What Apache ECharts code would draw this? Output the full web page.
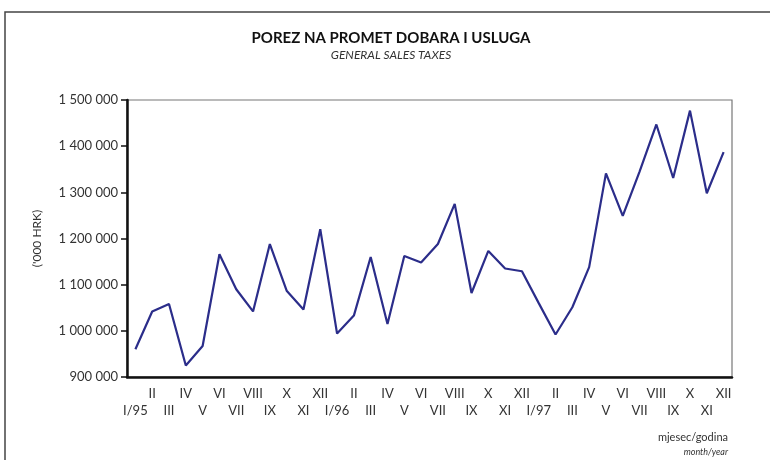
<!DOCTYPE html>
<html>
<head>
<meta charset="utf-8">
<script src="https://cdn.jsdelivr.net/npm/echarts@6/dist/echarts.min.js"></script>
<style>
  html, body { margin: 0; padding: 0; background: #fff; }
  #chart { width: 770px; height: 460px; }
</style>
</head>
<body>
<div id="chart"></div>
<script>
// mjeseci 1995-1997
const months = [
  'I/95', 'II', 'III', 'IV', 'V', 'VI', 'VII', 'VIII', 'IX', 'X', 'XI', 'XII',
  'I/96', 'II', 'III', 'IV', 'V', 'VI', 'VII', 'VIII', 'IX', 'X', 'XI', 'XII',
  'I/97', 'II', 'III', 'IV', 'V', 'VI', 'VII', 'VIII', 'IX', 'X', 'XI', 'XII'
]
// porez na promet ('000 HRK)
const salesTax = [
  960000, 1042000, 1058000, 925000, 967000, 1166000, 1090000, 1042000, 1188000, 1087000, 1046000, 1220000,
  994000, 1033000, 1160000, 1015000, 1162000, 1148000, 1188000, 1275000, 1082000, 1173000, 1135000, 1129000,
  1060000, 992000, 1051000, 1138000, 1341000, 1249000, 1345000, 1447000, 1331000, 1477000, 1298000, 1387000
]
const yTicks = { min: 900000, max: 1500000, step: 100000 }

const myChart = echarts.init(document.getElementById('chart'))
const font = 'Lato, "Open Sans", sans-serif'
const textColor = '#333'

const option = {
  animation: false,
  textStyle: { fontFamily: font },
  grid: {
    show: true,
    left: 127,
    top: 100,
    right: 38,
    bottom: 83,
    borderColor: '#777',
    borderWidth: 1.2
  },
  graphic: [
    // okvir
    {
      type: 'polyline',
      shape: { points: [[5, 460], [5, 12], [770, 12]] },
      style: { stroke: '#444', lineWidth: 1.5, fill: null }
    },
    {
      type: 'text',
      x: 391,
      y: 31,
      style: {
        text: 'POREZ NA PROMET DOBARA I USLUGA',
        font: 'bold 15px ' + font,
        fill: '#111',
        textAlign: 'center'
      }
    },
    {
      type: 'text',
      x: 391,
      y: 49,
      style: {
        text: 'GENERAL SALES TAXES',
        font: 'italic 12px ' + font,
        fill: textColor,
        textAlign: 'center'
      }
    },
    {
      type: 'text',
      x: 728,
      y: 432,
      style: {
        text: 'mjesec/godina',
        font: '11px ' + font,
        fill: textColor,
        textAlign: 'right'
      }
    },
    {
      type: 'text',
      x: 728,
      y: 448,
      style: {
        text: 'month/year',
        font: 'italic 9px ' + font,
        fill: textColor,
        textAlign: 'right'
      }
    }
  ],
  xAxis: {
    type: 'category',
    data: months,
    boundaryGap: true,
    axisLine: { lineStyle: { color: '#111', width: 2.5 } },
    axisTick: { show: false },
    axisLabel: {
      interval: 0,
      margin: 8,
      fontSize: 13,
      lineHeight: 17,
      color: textColor,
      // naizmjenicno u dva reda
      formatter: (val, idx) => (idx % 2 === 0 ? '\n' + val : val + '\n')
    }
  },
  yAxis: {
    type: 'value',
    min: yTicks.min,
    max: yTicks.max,
    interval: yTicks.step,
    name: "('000 HRK)",
    nameLocation: 'middle',
    nameRotate: 90,
    nameGap: 84,
    nameTextStyle: { fontSize: 12, color: textColor },
    axisLine: { show: true, lineStyle: { color: '#111', width: 2.5 } },
    axisTick: { show: true, length: 6, lineStyle: { color: '#111', width: 1.5 } },
    splitLine: { show: false },
    axisLabel: {
      margin: 9,
      fontSize: 13,
      color: textColor,
      formatter: (v) => String(v).replace(/\B(?=(\d{3})+(?!\d))/g, ' ')
    }
  },
  series: [
    {
      type: 'line',
      data: salesTax,
      symbol: 'none',
      lineStyle: { color: '#2b2d8a', width: 2.2 }
    }
  ]
}
myChart.setOption(option)
</script>
</body>
</html>
